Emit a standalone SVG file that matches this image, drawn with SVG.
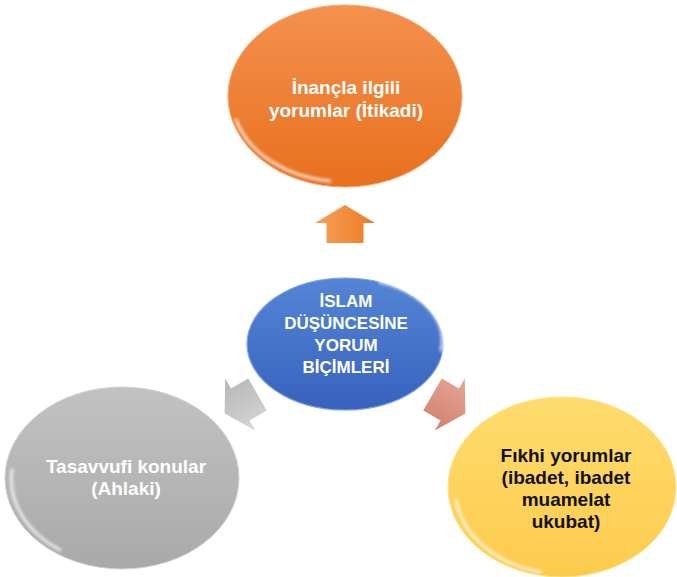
<svg xmlns="http://www.w3.org/2000/svg" width="677" height="577" viewBox="0 0 677 577">
  <defs>
    <linearGradient id="gOrange" x1="0" y1="0" x2="0" y2="1">
      <stop offset="0" stop-color="#F4914E"/>
      <stop offset="1" stop-color="#E8701E"/>
    </linearGradient>
    <linearGradient id="gBlue" x1="0" y1="0" x2="0" y2="1">
      <stop offset="0" stop-color="#5585D6"/>
      <stop offset="1" stop-color="#3762BD"/>
    </linearGradient>
    <linearGradient id="gGray" x1="0" y1="0" x2="0" y2="1">
      <stop offset="0" stop-color="#C2C2C2"/>
      <stop offset="1" stop-color="#A9A9A9"/>
    </linearGradient>
    <linearGradient id="gYellow" x1="0" y1="0" x2="0" y2="1">
      <stop offset="0" stop-color="#FFDC6E"/>
      <stop offset="1" stop-color="#FCCB4C"/>
    </linearGradient>
    <linearGradient id="aOrange" x1="0" y1="0" x2="1" y2="0">
      <stop offset="0" stop-color="#F6A05A"/>
      <stop offset="1" stop-color="#EE7B25"/>
    </linearGradient>
    <linearGradient id="aGray" x1="0" y1="0" x2="1" y2="0">
      <stop offset="0" stop-color="#D6D6D6"/>
      <stop offset="1" stop-color="#B5B5B5"/>
    </linearGradient>
    <linearGradient id="aSalmon" x1="0" y1="0" x2="1" y2="0">
      <stop offset="0" stop-color="#E6A595"/>
      <stop offset="1" stop-color="#D0826F"/>
    </linearGradient>
    <filter id="soft" x="-20%" y="-20%" width="140%" height="140%">
      <feGaussianBlur stdDeviation="1.5"/>
    </filter>
    <path id="arrow" d="M0,-19 L30,-1 L18.5,-1 L18.5,19 L-18.5,19 L-18.5,-1 L-30,-1 Z"/>
  </defs>
  <style>
    .lbl { font-family: "Liberation Sans", Arial, sans-serif; font-weight: bold; text-anchor: middle; }
    .w { fill: #FFFFFF; font-size: 19px; }
    .wc { fill: #FFFFFF; font-size: 17px; }
    .k { fill: #111111; font-size: 19px; }
    .rim { fill: none; stroke: #FFFFFF; stroke-width: 3; stroke-linecap: round; opacity: 0.75; filter: url(#soft); }
  </style>

  <g id="connectors">
    <use href="#arrow" transform="translate(345,224)" fill="url(#aOrange)"/>
    <use href="#arrow" transform="rotate(-120 345 344) translate(345,224)" fill="url(#aGray)"/>
    <use href="#arrow" transform="rotate(120 345 344) translate(345,224)" fill="url(#aSalmon)"/>
  </g>

  <g id="node-top">
    <ellipse cx="345" cy="96" rx="117" ry="91" fill="url(#gOrange)" stroke="#F6A66A" stroke-width="1"/>
    <path class="rim" d="M236,120 A112,86 0 0 0 330,181"/>
    <text class="lbl w" x="346" y="94">İnançla ilgili</text>
    <text class="lbl w" x="346" y="117">yorumlar (İtikadi)</text>
  </g>

  <g id="node-center">
    <ellipse cx="345" cy="344" rx="98" ry="66" fill="url(#gBlue)" stroke="#7FA3E6" stroke-width="1.2"/>
    <path class="rim" d="M380,282 A94,62 0 0 1 441,350"/>
    <text class="lbl wc" x="346" y="307">İSLAM</text>
    <text class="lbl wc" x="346" y="329">DÜŞÜNCESİNE</text>
    <text class="lbl wc" x="346" y="351">YORUM</text>
    <text class="lbl wc" x="346" y="373">BİÇİMLERİ</text>
  </g>

  <g id="node-left">
    <ellipse cx="122" cy="478" rx="117" ry="91" fill="url(#gGray)" stroke="#D2D2D2" stroke-width="1"/>
    <path class="rim" d="M12,470 A112,86 0 0 0 60,550"/>
    <text class="lbl w" x="126" y="473">Tasavvufi konular</text>
    <text class="lbl w" x="126" y="495">(Ahlaki)</text>
  </g>

  <g id="node-right">
    <ellipse cx="562" cy="487" rx="114" ry="90" fill="url(#gYellow)" stroke="#FFE38A" stroke-width="1"/>
    <path class="rim" d="M456,500 A110,86 0 0 0 540,572"/>
    <text class="lbl k" x="566" y="462">Fıkhi yorumlar</text>
    <text class="lbl k" x="566" y="484">(ibadet, ibadet</text>
    <text class="lbl k" x="566" y="506">muamelat</text>
    <text class="lbl k" x="566" y="528">ukubat)</text>
  </g>
</svg>
